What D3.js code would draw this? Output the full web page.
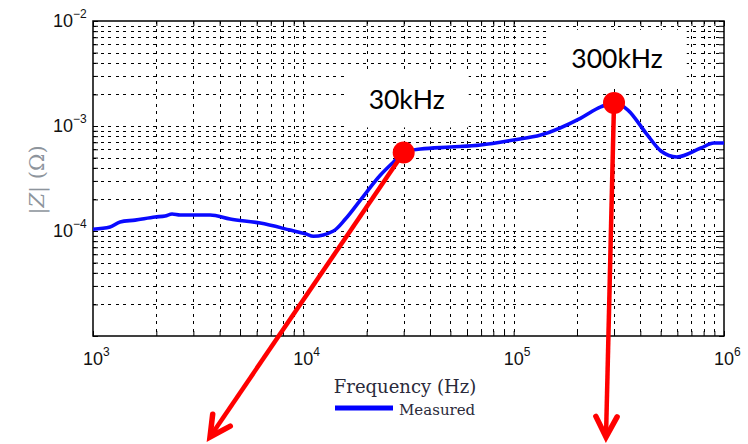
<!DOCTYPE html>
<html>
<head>
<meta charset="utf-8">
<script src="https://cdn.jsdelivr.net/npm/d3@7"></script>
<style>
  body { margin: 0; background: #fff; }
  svg { display: block; }
</style>
</head>
<body>
<svg id="chart" width="748" height="444"></svg>
<script>
// Measured impedance magnitude |Z| versus frequency
const freqHz = [1000, 1205, 1345, 1585, 1974, 2203, 2377, 2594, 3606, 4486, 6237, 8670,
  10230, 11170, 13900, 15850, 18680, 23270, 26850, 30000, 36080, 50120, 69660, 100000,
  134500, 208600, 259500, 300000, 349300, 425400, 501200, 597000, 776300, 895200, 1000000];
const impedanceOhm = [1.04e-4, 1.09e-4, 1.22e-4, 1.27e-4, 1.36e-4, 1.39e-4, 1.45e-4, 1.42e-4,
  1.42e-4, 1.30e-4, 1.19e-4, 1.02e-4, 9.4e-5, 8.9e-5, 1.0e-4, 1.3e-4, 1.97e-4, 3.41e-4,
  4.54e-4, 5.6e-4, 6.04e-4, 6.3e-4, 6.59e-4, 7.36e-4, 8.2e-4, 1.19e-3, 1.52e-3, 1.66e-3,
  1.42e-3, 8.57e-4, 5.78e-4, 5.07e-4, 6.17e-4, 6.88e-4, 6.88e-4];

// Highlighted points
const markerFreqs = [30e3, 300e3];
const markerZ = [5.6e-4, 1.66e-3];
const markerLabels = ["30kHz", "300kHz"];

// Axis decades
const xTickExps = [3, 4, 5, 6];
const yTickExps = [-2, -3, -4];
const seriesName = "Measured";

// Layout
const W = 748, H = 444;
const plot = { left: 93, right: 724, top: 21, bottom: 336 };
const labelOffsets = [-43, -35];          // label baseline above marker
const arrowTips = [[210, 437], [606, 437]]; // where the annotation arrows point

const svg = d3.select("#chart");
svg.append("rect").attr("width", W).attr("height", H).attr("fill", "#fff");

const x = d3.scaleLog().domain([1e3, 1e6]).range([plot.left, plot.right]);
const y = d3.scaleLog().domain([1e-5, 1e-2]).range([plot.bottom, plot.top]);

// minor + major grid values
const xGrid = [], yGrid = [];
for (let e = 3; e < 6; e++) for (let m = 1; m < 10; m++) xGrid.push(m * Math.pow(10, e));
xGrid.push(1e6);
for (let e = -5; e < -2; e++) for (let m = 1; m < 10; m++) yGrid.push(m * Math.pow(10, e));
yGrid.push(1e-2);

const grid = svg.append("g").attr("stroke", "#000").attr("stroke-width", 1.1)
  .attr("stroke-dasharray", "3,4.5").attr("shape-rendering", "crispEdges");
grid.selectAll("line.v").data(xGrid.filter(v => v > 1e3 && v < 1e6)).join("line")
  .attr("x1", d => Math.round(x(d)) + 0.5).attr("x2", d => Math.round(x(d)) + 0.5)
  .attr("y1", plot.top).attr("y2", plot.bottom);
grid.selectAll("line.h").data(yGrid.filter(v => v > 1e-5 && v < 1e-2)).join("line")
  .attr("y1", d => Math.round(y(d)) + 0.5).attr("y2", d => Math.round(y(d)) + 0.5)
  .attr("x1", plot.left).attr("x2", plot.right);

// tick marks on all four sides, pointing inward
const axB = d3.axisBottom(x).tickValues(xGrid).tickSizeInner(-5).tickSizeOuter(0).tickFormat("");
const axT = d3.axisTop(x).tickValues(xGrid).tickSizeInner(-5).tickSizeOuter(0).tickFormat("");
const axL = d3.axisLeft(y).tickValues(yGrid).tickSizeInner(-5).tickSizeOuter(0).tickFormat("");
const axR = d3.axisRight(y).tickValues(yGrid).tickSizeInner(-5).tickSizeOuter(0).tickFormat("");
[[axB, `translate(0,${plot.bottom})`], [axT, `translate(0,${plot.top})`],
 [axL, `translate(${plot.left},0)`], [axR, `translate(${plot.right},0)`]].forEach(([ax, tr]) => {
  const g = svg.append("g").attr("transform", tr).call(ax);
  g.select(".domain").remove();
  g.selectAll("line").attr("stroke", "#000").attr("stroke-width", 1);
});

// decade tick labels
const tickFont = "'Liberation Sans', Arial, sans-serif";
const xl = svg.append("g").attr("font-family", tickFont).attr("fill", "#111");
xTickExps.forEach(e => {
  const t = xl.append("text").attr("x", x(Math.pow(10, e)) - 10).attr("y", 365)
    .attr("font-size", 18);
  t.append("tspan").text("10");
  t.append("tspan").attr("font-size", 12).attr("dy", -9).text(e);
});
const yl = svg.append("g").attr("font-family", tickFont).attr("fill", "#111");
yTickExps.forEach(e => {
  const t = yl.append("text").attr("x", 53).attr("y", y(Math.pow(10, e)) + 6)
    .attr("font-size", 18);
  t.append("tspan").text("10");
  t.append("tspan").attr("font-size", 12).attr("dy", -9).text("\u2212" + Math.abs(e));
});

// label backgrounds, labels
const labelLayer = svg.append("g");

// frame
svg.append("rect").attr("x", plot.left).attr("y", plot.top)
  .attr("width", plot.right - plot.left).attr("height", plot.bottom - plot.top)
  .attr("fill", "none").attr("stroke", "#000").attr("stroke-width", 1.5);

// measured curve
const line = d3.line().x((d, i) => x(freqHz[i])).y(d => y(d)).curve(d3.curveMonotoneX);
svg.append("path").datum(impedanceOhm).attr("d", line)
  .attr("fill", "none").attr("stroke", "#0a0aff").attr("stroke-width", 3.6)
  .attr("stroke-linejoin", "round");

// axis titles
svg.append("text").attr("x", 405).attr("y", 393).attr("text-anchor", "middle")
  .attr("font-family", "'DejaVu Serif', serif").attr("font-size", 18)
  .attr("fill", "#2a2a3a").text("Frequency (Hz)");
const yt = svg.append("text").attr("transform", "translate(44,180) rotate(-90)")
  .attr("text-anchor", "middle").attr("font-family", "'DejaVu Serif', serif")
  .attr("font-size", 21).attr("fill", "#8d949c");
yt.append("tspan").text("|");
yt.append("tspan").attr("font-style", "italic").text("Z");
yt.append("tspan").text("| (\u03A9)");

// legend
svg.append("line").attr("x1", 335).attr("x2", 393).attr("y1", 408).attr("y2", 408)
  .attr("stroke", "#0000ff").attr("stroke-width", 5);
svg.append("text").attr("x", 399).attr("y", 415)
  .attr("font-family", "'DejaVu Serif', serif").attr("font-size", 15)
  .attr("fill", "#2a2a3a").text(seriesName);

// annotations: arrows, markers, labels
const red = "#ff0000";
const ann = svg.append("g");
markerFreqs.forEach((f, i) => {
  const cx = x(f), cy = y(markerZ[i]);
  const [tx, ty] = arrowTips[i];
  ann.append("line").attr("x1", cx).attr("y1", cy).attr("x2", tx).attr("y2", ty)
    .attr("stroke", red).attr("stroke-width", 4.5);
  const ang = Math.atan2(cy - ty, cx - tx);
  const len = 23, spread = 0.48;
  const p1 = [tx + len * Math.cos(ang + spread), ty + len * Math.sin(ang + spread)];
  const p2 = [tx + len * Math.cos(ang - spread), ty + len * Math.sin(ang - spread)];
  ann.append("path").attr("d", `M${p1}L${tx},${ty}L${p2}`)
    .attr("fill", "none").attr("stroke", red).attr("stroke-width", 5.5)
    .attr("stroke-linecap", "round").attr("stroke-linejoin", "miter");
  ann.append("circle").attr("cx", cx).attr("cy", cy).attr("r", 11).attr("fill", red);

  const txt = labelLayer.append("text").attr("x", cx + 3).attr("y", cy + labelOffsets[i])
    .attr("text-anchor", "middle").attr("font-family", "Lato, 'Open Sans', sans-serif")
    .attr("font-size", 26.5).attr("fill", "#000").text(markerLabels[i]);
  const bb = txt.node().getBBox();
  labelLayer.insert("rect", "text").attr("x", bb.x - 24).attr("y", bb.y - 12)
    .attr("width", bb.width + 48).attr("height", bb.height + 24).attr("fill", "#fff");
});
</script>
</body>
</html>
